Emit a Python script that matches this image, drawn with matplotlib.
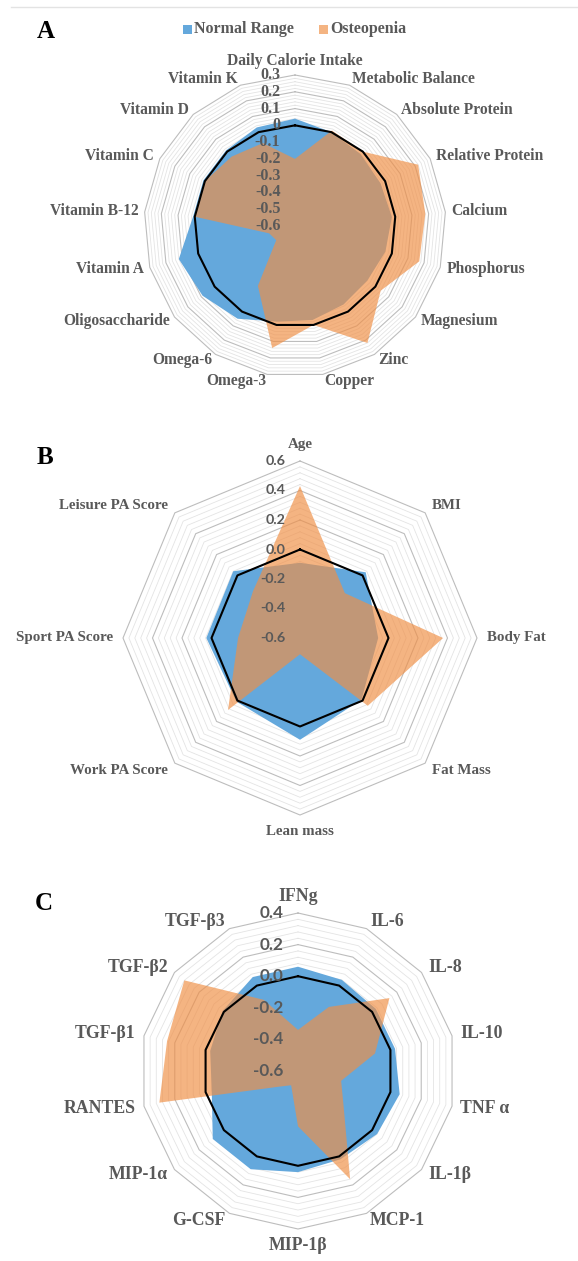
import numpy as np
import matplotlib
matplotlib.use("Agg")
import matplotlib.pyplot as plt
from matplotlib.lines import Line2D
from matplotlib.patches import Rectangle

# ---- Panel A: dietary intake ----
nutr_labels = ["Daily Calorie Intake", "Metabolic Balance", "Absolute Protein",
               "Relative Protein", "Calcium", "Phosphorus", "Magnesium", "Zinc",
               "Copper", "Omega-3", "Omega-6", "Oligosaccharide", "Vitamin A",
               "Vitamin B-12", "Vitamin C", "Vitamin D", "Vitamin K"]
nutr_normal = [0.04, 0.0, -0.02, -0.03, -0.02, -0.04, -0.06, -0.05, -0.03,
               -0.02, 0.05, 0.09, 0.12, 0.01, 0.01, 0.01, 0.03]
nutr_osteo = [-0.20, 0.01, 0.0, 0.22, 0.18, 0.17, 0.04, 0.22, 0.0,
              0.14, -0.18, -0.46, -0.44, 0.0, 0.0, -0.04, -0.07]
nutr_ticks = ["0.3", "0.2", "0.1", "0", "-0.1", "-0.2", "-0.3", "-0.4", "-0.5", "-0.6"]

# ---- Panel B: body composition and physical activity ----
body_labels = ["Age", "BMI", "Body Fat", "Fat Mass", "Lean mass",
               "Work PA Score", "Sport PA Score", "Leisure PA Score"]
body_normal = [-0.09, 0.03, -0.07, -0.01, 0.09, 0.01, 0.035, 0.04]
body_osteo = [0.43, -0.17, 0.37, 0.05, -0.49, 0.09, -0.18, -0.15]
body_ticks = ["0.6", "0.4", "0.2", "0.0", "-0.2", "-0.4", "-0.6"]

# ---- Panel C: cytokines ----
cyto_labels = ["IFNg", "IL-6", "IL-8", "IL-10", "TNF α", "IL-1β", "MCP-1",
               "MIP-1β", "G-CSF", "MIP-1α", "RANTES", "TGF-β1", "TGF-β2", "TGF-β3"]
cyto_normal = [0.06, 0.04, 0.03, 0.03, 0.06, 0.04, 0.02, 0.04, 0.09, 0.09,
               -0.04, -0.03, 0.01, 0.06]
cyto_osteo = [-0.34, -0.15, 0.14, -0.10, -0.32, -0.23, 0.16, -0.25, -0.50,
              -0.44, 0.30, 0.25, 0.32, -0.10]
cyto_ticks = ["0.4", "0.2", "0.0", "-0.2", "-0.4", "-0.6"]

series_names = ["Normal Range", "Osteopenia"]

BLUE = "#64A8DC"
ORANGE = "#F08F45"
ORANGE_ALPHA = 0.67
GREY_TEXT = "#595959"
MAJOR_GRID = "#BDBDBD"
MINOR_GRID = "#E4E4E4"
SERIF = "Liberation Serif"

W, H = 578, 1261
fig = plt.figure(figsize=(W / 100, H / 100), dpi=100)
fig.patch.set_facecolor("white")


def px_axes(cx, cy, r):
    """Square axes box in figure fractions from a centre and radius in pixels."""
    return [(cx - r) / W, 1 - (cy + r) / H, 2 * r / W, 2 * r / H]


def radar(rect, labels, normal, osteo, rmin, rmax, major, ticks,
          tick_family, tick_size, label_size, label_pad):
    ax = fig.add_axes(rect, projection="polar")
    n = len(labels)
    theta = np.arange(n) * 2 * np.pi / n
    closed = np.append(theta, theta[0])

    def close(v):
        v = list(v)
        return v + v[:1]

    ax.set_theta_zero_location("N")
    ax.set_theta_direction(-1)
    ax.set_ylim(rmin, rmax)
    ax.grid(False)
    ax.set_xticks([])
    ax.set_yticks([])
    ax.spines["polar"].set_visible(False)
    ax.patch.set_alpha(0)

    # concentric polygon gridlines (5 minor steps per major step)
    minor = major / 5
    nsteps = int(round((rmax - rmin) / minor))
    for k in range(1, nsteps + 1):
        lev = rmin + k * minor
        is_major = k % 5 == 0
        ax.plot(closed, [lev] * (n + 1),
                color=MAJOR_GRID if is_major else MINOR_GRID,
                lw=0.8 if is_major else 0.6, zorder=1, clip_on=False)

    ax.fill(closed, close(normal), color=BLUE, lw=0, zorder=2)
    ax.fill(closed, close(osteo), color=ORANGE, alpha=ORANGE_ALPHA, lw=0, zorder=3)
    ax.plot(closed, [0] * (n + 1), color="black", lw=1.5, zorder=4, clip_on=False)

    # radial value labels along the top spoke
    for i, t in enumerate(ticks):
        val = max(round(rmax - i * major, 6), rmin)
        ax.annotate(t, xy=(0, val), xytext=(-10.5, 0), textcoords="offset points",
                    ha="right", va="center", fontsize=tick_size,
                    family=tick_family, weight="bold", color=GREY_TEXT,
                    zorder=6, annotation_clip=False)

    # category labels outside the outer ring
    for th, lab in zip(theta, labels):
        s, c = np.sin(th), np.cos(th)
        if abs(s) < 0.1:
            ha = "center"
            va = "bottom" if c > 0 else "top"
        else:
            ha = "left" if s > 0 else "right"
            va = "center"
        ax.annotate(lab, xy=(th, rmax), xytext=(label_pad * s, label_pad * c),
                    textcoords="offset points", ha=ha, va=va,
                    fontsize=label_size, family=SERIF,
                    weight="bold", color=GREY_TEXT, annotation_clip=False)
    return ax


radar(px_axes(295, 226, 151), nutr_labels, nutr_normal, nutr_osteo,
      -0.6, 0.3, 0.1, nutr_ticks, SERIF, 11.5, 11.2, 4.5)
radar(px_axes(300, 638, 177), body_labels, body_normal, body_osteo,
      -0.6, 0.6, 0.2, body_ticks, "Lato", 10.3, 10.8, 7.0)
radar(px_axes(298, 1071, 158), cyto_labels, cyto_normal, cyto_osteo,
      -0.6, 0.4, 0.2, cyto_ticks, "Lato", 12.3, 12.8, 6.0)

# panel letters
for letter, (x, y) in zip("ABC", [(46, 31), (45, 458), (44, 903)]):
    fig.text(x / W, 1 - y / H, letter, ha="center", va="center",
             fontsize=18, family=SERIF, weight="bold", color="black")

# legend
legend_items = [(183, series_names[0], BLUE, 1.0), (319, series_names[1], ORANGE, ORANGE_ALPHA)]
for x0, name, col, a in legend_items:
    fig.add_artist(Rectangle((x0 / W, 1 - 33.5 / H), 9 / W, 9 / H,
                             transform=fig.transFigure, facecolor=col, alpha=a,
                             edgecolor="none"))
    fig.text((x0 + 11) / W, 1 - 29 / H, name, ha="left", va="center",
             fontsize=11.5, family=SERIF, weight="bold", color=GREY_TEXT)

# thin rule along the top
fig.add_artist(Line2D([11 / W, 1.0], [1 - 7 / H, 1 - 7 / H],
                      transform=fig.transFigure, color="#E3E3E3", lw=1.0))

fig.savefig("out.png", dpi=100)
